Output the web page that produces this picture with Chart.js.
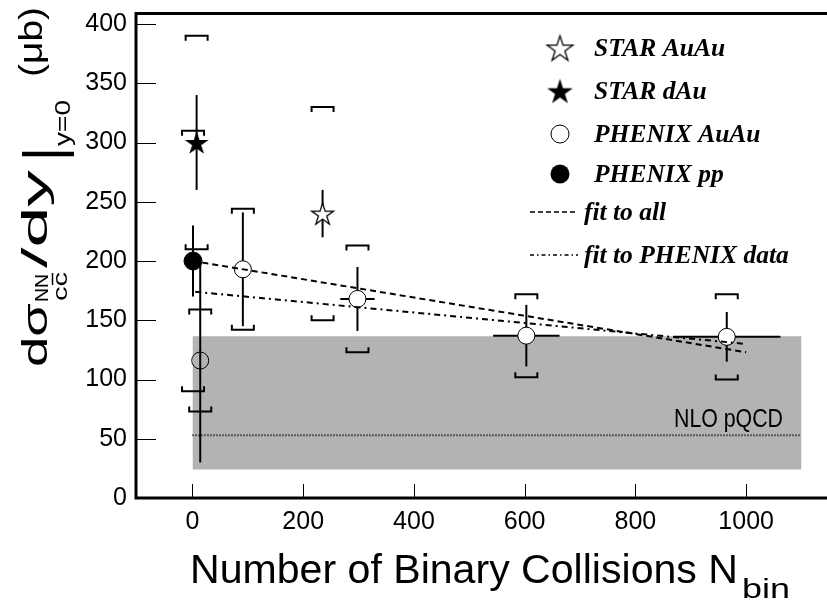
<!DOCTYPE html>
<html><head><meta charset="utf-8">
<script src="https://cdn.jsdelivr.net/npm/chart.js@4"></script>
<style>html,body{margin:0;padding:0;background:#fff;overflow:hidden}</style>
</head><body>
<canvas id="c" width="827" height="601" style="width:827px;height:601px;display:block"></canvas>
<script>
// ---------- data ----------
const xTickValues = [0, 200, 400, 600, 800, 1000];
const yTickValues = [0, 50, 100, 150, 200, 250, 300, 350, 400];

const legendLabels = ['STAR AuAu', 'STAR dAu', 'PHENIX AuAu', 'PHENIX pp', 'fit to all', 'fit to PHENIX data'];

const starAuAuN = [235];
const starAuAuY = [240];
const starAuAuStat = [20];
const starAuAuSys = [90];

const starDAuN = [7.5];
const starDAuY = [300];
const starDAuStat = [40];
const starDAuSys = [90];

const phenixAuAuN = [14, 91, 298, 603, 965];
const phenixAuAuY = [116, 193, 168, 137, 136];
const phenixAuAuStat = [86, 48, 27, 26, 21];
const phenixAuAuSys = [43, 51, 45, 35, 36];
const phenixAuAuXErr = [0, 0, 31, 60, 97];

const phenixPPN = [1];
const phenixPPY = [200];
const phenixPPStat = [30];
const phenixPPSys = [110];

const fitAllN = [0, 1000];
const fitAllY = [200, 123];
const fitPhenixN = [5, 1000];
const fitPhenixY = [174, 130];

const nloN = [0, 1100];
const nloCentral = 53;
const nloLow = 24;
const nloHigh = 136.5;

// ---------- helpers ----------
const pts = (xs, ys) => xs.map((x, i) => ({x: x, y: ys[i]}));

function starPath(ctx, cx, cy, R) {
  ctx.beginPath();
  for (let i = 0; i < 10; i++) {
    const a = -Math.PI / 2 + i * Math.PI / 5;
    const r = (i % 2 === 0) ? R : R * 0.382;
    const px = cx + r * Math.cos(a), py = cy + r * Math.sin(a);
    if (i === 0) ctx.moveTo(px, py); else ctx.lineTo(px, py);
  }
  ctx.closePath();
}
function starImage(R, filled) {
  const c = document.createElement('canvas');
  const s = Math.ceil(2 * R + 4);
  c.width = s; c.height = s;
  const g = c.getContext('2d');
  starPath(g, s / 2, s / 2 + R * 0.1, R);
  if (filled) { g.fillStyle = '#000'; g.fill(); }
  else { g.fillStyle = '#fff'; g.fill(); g.lineWidth = 1.3; g.strokeStyle = '#000'; g.stroke(); }
  return c;
}
const openStarImg = starImage(11.5, false);
const filledStarImg = starImage(12.5, true);
const openStarLegend = starImage(13.5, false);
const filledStarLegend = starImage(13.5, true);

const errorSeries = [
  {n: starAuAuN, y: starAuAuY, stat: starAuAuStat, sys: starAuAuSys, xerr: null},
  {n: starDAuN, y: starDAuY, stat: starDAuStat, sys: starDAuSys, xerr: null},
  {n: phenixAuAuN, y: phenixAuAuY, stat: phenixAuAuStat, sys: phenixAuAuSys, xerr: phenixAuAuXErr},
  {n: phenixPPN, y: phenixPPY, stat: phenixPPStat, sys: phenixPPSys, xerr: null}
];

const errorBarPlugin = {
  id: 'errorBars',
  afterDatasetDraw(chart, args) {
    if (chart.data.datasets[args.index].id !== 'nloLine') return;
    const ctx = chart.ctx, xs = chart.scales.x, ys = chart.scales.y;
    ctx.save();
    ctx.strokeStyle = '#000';
    ctx.lineWidth = 2;
    ctx.lineCap = 'butt';
    errorSeries.forEach(s => {
      s.n.forEach((n, i) => {
        const px = xs.getPixelForValue(n);
        const py = ys.getPixelForValue(s.y[i]);
        const yt = ys.getPixelForValue(s.y[i] + s.stat[i]);
        const yb = ys.getPixelForValue(s.y[i] - s.stat[i]);
        ctx.beginPath(); ctx.moveTo(px, yt); ctx.lineTo(px, yb); ctx.stroke();
        if (s.xerr && s.xerr[i] > 0) {
          const xl = xs.getPixelForValue(n - s.xerr[i]);
          const xr = xs.getPixelForValue(n + s.xerr[i]);
          ctx.beginPath(); ctx.moveTo(xl, py); ctx.lineTo(xr, py); ctx.stroke();
        }
        const hw = 11, leg = 5;
        const st = ys.getPixelForValue(s.y[i] + s.sys[i]);
        const sb = ys.getPixelForValue(s.y[i] - s.sys[i]);
        ctx.beginPath();
        ctx.moveTo(px - hw, st + leg); ctx.lineTo(px - hw, st); ctx.lineTo(px + hw, st); ctx.lineTo(px + hw, st + leg);
        ctx.stroke();
        ctx.beginPath();
        ctx.moveTo(px - hw, sb - leg); ctx.lineTo(px - hw, sb); ctx.lineTo(px + hw, sb); ctx.lineTo(px + hw, sb - leg);
        ctx.stroke();
      });
    });
    ctx.restore();
  }
};

function fittedText(ctx, text, font, x0, x1, baseline) {
  ctx.font = font;
  const w = ctx.measureText(text).width;
  const sx = (x1 - x0) / w;
  ctx.save();
  ctx.translate(x0, baseline);
  ctx.scale(sx, 1);
  ctx.fillText(text, 0, 0);
  ctx.restore();
}
function fittedTextRot(ctx, text, font, y0, y1, bx) {
  ctx.save();
  ctx.rotate(-Math.PI / 2);
  fittedText(ctx, text, font, -y0, -y1, bx);
  ctx.restore();
}

const decorPlugin = {
  id: 'decor',
  afterDraw(chart) {
    const ctx = chart.ctx, a = chart.chartArea, xs = chart.scales.x, ys = chart.scales.y;
    ctx.save();
    ctx.fillStyle = '#000';
    ctx.strokeStyle = '#000';
    ctx.lineWidth = 1;
    ys.ticks.forEach(t => {
      const y = Math.round(ys.getPixelForValue(t.value)) + 0.5;
      ctx.beginPath(); ctx.moveTo(a.left, y); ctx.lineTo(a.left + 20, y); ctx.stroke();
    });
    xs.ticks.forEach(t => {
      const x = Math.round(xs.getPixelForValue(t.value)) + 0.5;
      ctx.beginPath(); ctx.moveTo(x, a.bottom); ctx.lineTo(x, a.bottom - 14); ctx.stroke();
    });
    ctx.lineWidth = 3;
    ctx.beginPath();
    ctx.moveTo(827, 13.5); ctx.lineTo(136, 13.5); ctx.lineTo(136, 498); ctx.lineTo(827, 498);
    ctx.stroke();

    const F = '"Liberation Sans", Arial, sans-serif';
    ctx.textAlign = 'left';
    ctx.textBaseline = 'alphabetic';
    fittedText(ctx, 'NLO pQCD', '26px ' + F, 674, 783, 427);

    fittedText(ctx, 'Number of Binary Collisions N', '41px ' + F, 190, 738, 583);
    fittedText(ctx, 'bin', '27px ' + F, 742, 790, 598);

    // y-axis title (rotated, reads bottom to top)
    fittedTextRot(ctx, 'd\u03c3', '35px ' + F, 367, 303, 47);
    fittedTextRot(ctx, 'NN', '19px ' + F, 302, 274, 48);
    fittedTextRot(ctx, 'cc', '20px ' + F, 301, 272, 67);
    ctx.lineWidth = 1.5;
    ctx.beginPath(); ctx.moveTo(52.5, 285); ctx.lineTo(52.5, 273); ctx.stroke();
    fittedTextRot(ctx, '/dy', '35px ' + F, 268, 170, 47);
    fittedTextRot(ctx, '|', '56px ' + F, 161, 147, 62);
    fittedTextRot(ctx, 'y=0', '22px ' + F, 146, 100, 70);
    fittedTextRot(ctx, '(\u03bcb)', '33px ' + F, 77, 7, 42);

    // legend
    const rows = [48, 91, 134, 174, 212, 255];
    const sx = 560;
    ctx.drawImage(openStarLegend, sx - openStarLegend.width / 2, rows[0] - openStarLegend.height / 2);
    ctx.drawImage(filledStarLegend, sx - filledStarLegend.width / 2, rows[1] - filledStarLegend.height / 2);
    ctx.lineWidth = 1;
    ctx.beginPath(); ctx.arc(sx, rows[2], 9, 0, Math.PI * 2); ctx.fillStyle = '#fff'; ctx.fill(); ctx.stroke();
    ctx.fillStyle = '#000';
    ctx.beginPath(); ctx.arc(sx, rows[3], 9.5, 0, Math.PI * 2); ctx.fill();
    ctx.lineWidth = 1.5;
    ctx.setLineDash([5, 3]);
    ctx.beginPath(); ctx.moveTo(530, rows[4]); ctx.lineTo(578, rows[4]); ctx.stroke();
    ctx.setLineDash([4, 3, 1.5, 3]);
    ctx.beginPath(); ctx.moveTo(530, rows[5]); ctx.lineTo(578, rows[5]); ctx.stroke();
    ctx.setLineDash([]);
    ctx.font = 'bold italic 25.5px "Liberation Serif", "Times New Roman", serif';
    const tx = [594, 594, 594, 594, 584, 584];
    legendLabels.forEach((l, i) => ctx.fillText(l, tx[i], rows[i] + 8));
    ctx.restore();
  }
};

const tickFont = {family: '"Liberation Sans", Arial, sans-serif', size: 25};

new Chart(document.getElementById('c'), {
  type: 'scatter',
  data: {
    datasets: [
      {id: 'nloBand', type: 'line', data: pts(nloN, nloN.map(() => nloHigh)), borderWidth: 0, borderColor: 'rgba(0,0,0,0)',
       backgroundColor: '#b3b3b3', fill: {value: nloLow}, pointRadius: 0, order: 10},
      {id: 'nloLine', type: 'line', data: pts(nloN, nloN.map(() => nloCentral)), borderWidth: 2, borderColor: '#000',
       borderDash: [1, 2], fill: false, pointRadius: 0, order: 9},
      {label: legendLabels[0], data: pts(starAuAuN, starAuAuY), pointStyle: openStarImg, order: 5},
      {label: legendLabels[1], data: pts(starDAuN, starDAuY), pointStyle: filledStarImg, order: 5},
      {label: legendLabels[2], data: pts(phenixAuAuN, phenixAuAuY), pointStyle: 'circle', pointRadius: 8.5,
       backgroundColor: ['rgba(0,0,0,0)', '#fff', '#fff', '#fff', '#fff'], borderColor: '#000', borderWidth: 1, order: 5},
      {label: legendLabels[3], data: pts(phenixPPN, phenixPPY), pointStyle: 'circle', pointRadius: 9,
       backgroundColor: '#000', borderColor: '#000', borderWidth: 1, order: 5},
      {label: legendLabels[4], type: 'line', data: pts(fitAllN, fitAllY), borderColor: '#000', borderWidth: 2,
       borderDash: [6, 4], pointRadius: 0, fill: false, order: 1},
      {label: legendLabels[5], type: 'line', data: pts(fitPhenixN, fitPhenixY), borderColor: '#000', borderWidth: 2,
       borderDash: [6, 4, 2, 4], pointRadius: 0, fill: false, order: 1}
    ]
  },
  options: {
    responsive: false,
    animation: false,
    events: [],
    layout: {padding: {top: 12, left: 0, right: 0, bottom: 0}},
    plugins: {legend: {display: false}, tooltip: {enabled: false}, title: {display: false}},
    scales: {
      x: {
        type: 'linear', position: 'bottom', min: -102, max: 1128,
        grid: {display: false, drawTicks: false}, border: {display: false},
        afterBuildTicks: s => { s.ticks = xTickValues.map(v => ({value: v})); },
        afterFit: s => { s.height = 103; },
        ticks: {font: tickFont, color: '#000', padding: 9, maxRotation: 0, autoSkip: false,
                callback: v => String(v)}
      },
      y: {
        type: 'linear', position: 'left', min: 0, max: 400,
        grid: {display: false, drawTicks: false}, border: {display: false},
        afterBuildTicks: s => { s.ticks = yTickValues.map(v => ({value: v})); },
        afterFit: s => { s.width = 136; },
        ticks: {font: tickFont, color: '#000', padding: 9, callback: v => String(v)}
      }
    }
  },
  plugins: [errorBarPlugin, decorPlugin]
});
</script>
</body></html>
